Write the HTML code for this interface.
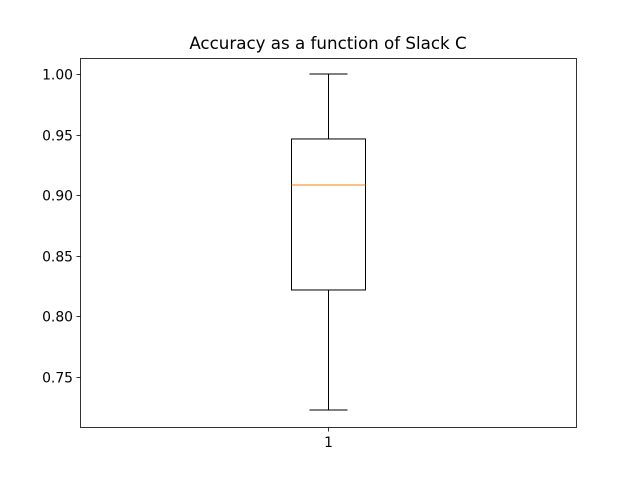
<!DOCTYPE html>
<html><head><meta charset="utf-8"><style>
body{margin:0;background:#fff}
svg{display:block;font-family:"DejaVu Sans","Liberation Sans",sans-serif}
</style></head><body>
<svg id="chart" width="640" height="480" xmlns="http://www.w3.org/2000/svg">
<rect width="640" height="480" fill="#fff"/>
<text x="328" y="49" text-anchor="middle" font-size="16.7">Accuracy as a function of Slack C</text>
<g id="yaxis"></g>
<g id="marks"></g>
<rect x="80.5" y="58.5" width="496" height="369" fill="none" stroke="#000" stroke-width="0.8"/>
</svg>
<script>
const categories=["1"];
const whiskerLow=[0.7228];
const q1=[0.8218];
const median=[0.9084];
const q3=[0.9464];
const whiskerHigh=[1.0];
const yTicks=[0.75,0.80,0.85,0.90,0.95,1.00];
const yTickLabels=["0.75","0.80","0.85","0.90","0.95","1.00"];
const NS="http://www.w3.org/2000/svg";
const plotTop=58,plotBottom=427,yMin=0.70875,yMax=1.0132;
function yScale(v){return plotBottom-(v-yMin)/(yMax-yMin)*(plotBottom-plotTop);}
function xScale(i){return 80+496*(i+0.5)/categories.length;}
function mk(tag,attrs,parent){const e=document.createElementNS(NS,tag);for(const k in attrs)e.setAttribute(k,attrs[k]);parent.appendChild(e);return e;}
const ya=document.getElementById('yaxis');
yTicks.forEach((t,i)=>{
 const yy=Math.round(yScale(t))+0.5;
 const l=mk('line',{x1:76.5,x2:80.5,y1:yy,y2:yy,stroke:'#000','stroke-width':0.8},ya);
 
 
 const tx=mk('text',{x:73,y:yy+5,'text-anchor':'end','font-size':13.9},ya);
 tx.textContent=yTickLabels[i];
 
 
});
const g=document.getElementById('marks');
categories.forEach((c,i)=>{
 const cx=Math.round(xScale(i))+0.5, hw=37, cw=19;
 const s={stroke:'#000','stroke-width':1,fill:'none'};
 const b=mk('rect',Object.assign({x:cx-hw,y:yScale(q3[i]),width:2*hw,height:yScale(q1[i])-yScale(q3[i])},s),g);
 
 
 const m=mk('line',{x1:cx-hw,x2:cx+hw,y1:yScale(median[i]),y2:yScale(median[i]),stroke:'#ff7f0e','stroke-width':1},g);
 
 
 const w1=mk('line',Object.assign({x1:cx,x2:cx,y1:yScale(q1[i]),y2:yScale(whiskerLow[i])},s),g);
 
 
 const w2=mk('line',Object.assign({x1:cx,x2:cx,y1:yScale(q3[i]),y2:yScale(whiskerHigh[i])},s),g);
 
 
 const c1=mk('line',Object.assign({x1:cx-cw,x2:cx+cw,y1:yScale(whiskerLow[i]),y2:yScale(whiskerLow[i])},s),g);
 
 
 const c2=mk('line',Object.assign({x1:cx-cw,x2:cx+cw,y1:yScale(whiskerHigh[i]),y2:yScale(whiskerHigh[i])},s),g);
 
 
 const t=mk('line',{x1:cx,x2:cx,y1:427.5,y2:431.5,stroke:'#000','stroke-width':0.8},g);
 
 
 const tl=mk('text',{x:cx,y:447,'text-anchor':'middle','font-size':13.9},g);
 tl.textContent=c;
 
 
});
</script>
</body></html>
